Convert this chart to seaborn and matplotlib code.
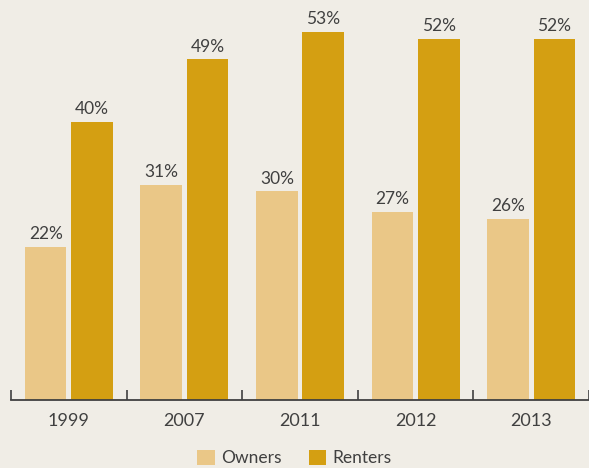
import pandas as pd
import numpy as np
import matplotlib.pyplot as plt
import seaborn as sns
from matplotlib.patches import Patch

# ------------------------------------------------------------------
# Data
# ------------------------------------------------------------------
years = ["1999", "2007", "2011", "2012", "2013"]
owners = [22, 31, 30, 27, 26]
renters = [40, 49, 53, 52, 52]
groups = ["Owners", "Renters"]

df = pd.DataFrame({
    "Year": years * 2,
    "Group": ["Owners"] * len(years) + ["Renters"] * len(years),
    "Share": owners + renters,
})

# ------------------------------------------------------------------
# Style
# ------------------------------------------------------------------
BG = "#F0EDE6"
TEXT = "#404040"
palette = {"Owners": "#EAC787", "Renters": "#D49F12"}

sns.set_style("white")
plt.rcParams["font.family"] = ["Lato", "DejaVu Sans"]

fig = plt.figure(figsize=(5.89, 4.68), dpi=100, facecolor=BG)
ax = fig.add_axes([11 / 589, 68 / 468, 578 / 589, 400 / 468])
ax.set_facecolor(BG)

sns.barplot(data=df, x="Year", y="Share", hue="Group", order=years,
            hue_order=groups, palette=palette, width=0.8, gap=0.1,
            saturation=1, legend=False, edgecolor="none", linewidth=0, ax=ax)

for cont in ax.containers:
    ax.bar_label(cont, fmt="{:.0f}%", padding=3.5, fontsize=12.5, color=TEXT)

ax.set_xlim(-0.5, 4.466)
ax.set_ylim(0, 57.55)
ax.set_xlabel("")
ax.set_ylabel("")
ax.set_yticks([])

# group labels without ticks, boundary ticks pointing up
ax.tick_params(axis="x", which="major", length=0, pad=9, labelsize=13,
               labelcolor=TEXT)
ax.set_xticks(np.arange(-0.5, len(years), 1.0), minor=True)
ax.tick_params(axis="x", which="minor", bottom=True, direction="in",
               length=7, width=1.2, color=TEXT)

for side in ["top", "right", "left"]:
    ax.spines[side].set_visible(False)
ax.spines["bottom"].set_color(TEXT)
ax.spines["bottom"].set_linewidth(1.3)

handles = [Patch(facecolor=palette[g], edgecolor="none", label=g) for g in groups]
fig.legend(handles=handles, loc="lower center", bbox_to_anchor=(0.5, -0.03),
           ncol=2, frameon=False, fontsize=12.5, handlelength=1.0,
           handleheight=1.0, handletextpad=0.35, columnspacing=1.6,
           labelcolor=TEXT)

fig.savefig("out.png", dpi=100, facecolor=BG)
